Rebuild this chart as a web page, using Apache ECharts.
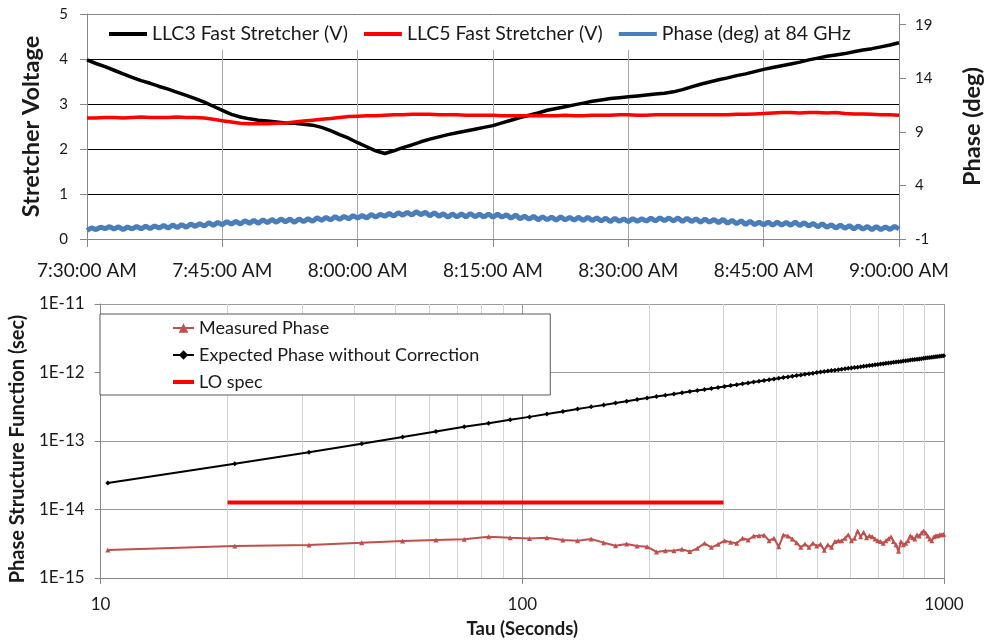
<!DOCTYPE html>
<html><head><meta charset="utf-8">
<script src="https://cdn.jsdelivr.net/npm/echarts@6/dist/echarts.min.js"></script>
<style>html,body{margin:0;padding:0;background:#fff}#c{width:992px;height:641px}</style>
</head><body><div id="c"></div>
<script>
// ---------- top chart data ----------
const timeTickLabels = ['7:30:00 AM','7:45:00 AM','8:00:00 AM','8:15:00 AM','8:30:00 AM','8:45:00 AM','9:00:00 AM'];
const stretcherStepMin = 1;   // one sample per minute, starting 7:30
const llc3Volts = [
 3.98,3.90,3.83,3.75,3.67,3.59,3.52,3.46,3.39,3.33,
 3.26,3.19,3.12,3.04,2.95,2.86,2.77,2.71,2.67,2.64,
 2.62,2.60,2.58,2.57,2.55,2.53,2.48,2.41,2.32,2.24,
 2.14,2.05,1.96,1.90,1.96,2.03,2.09,2.16,2.22,2.27,
 2.32,2.36,2.40,2.44,2.48,2.52,2.58,2.64,2.70,2.75,
 2.80,2.86,2.90,2.94,2.98,3.02,3.06,3.09,3.12,3.14,
 3.16,3.18,3.20,3.22,3.24,3.27,3.32,3.38,3.44,3.49,
 3.54,3.58,3.63,3.67,3.72,3.77,3.81,3.85,3.89,3.93,
 3.98,4.02,4.06,4.09,4.12,4.16,4.20,4.23,4.27,4.31,
 4.36];
const llc5Volts = [
 2.69,2.69,2.70,2.70,2.69,2.70,2.71,2.70,2.70,2.70,
 2.71,2.70,2.70,2.69,2.66,2.63,2.60,2.57,2.56,2.56,
 2.56,2.57,2.58,2.60,2.62,2.64,2.66,2.68,2.70,2.72,
 2.73,2.74,2.74,2.75,2.76,2.76,2.77,2.77,2.77,2.76,
 2.76,2.76,2.75,2.75,2.75,2.75,2.74,2.74,2.74,2.74,
 2.74,2.74,2.74,2.75,2.74,2.74,2.75,2.75,2.75,2.76,
 2.76,2.75,2.75,2.76,2.76,2.76,2.76,2.76,2.76,2.76,
 2.76,2.76,2.77,2.77,2.78,2.79,2.80,2.81,2.81,2.80,
 2.81,2.81,2.80,2.81,2.79,2.78,2.78,2.77,2.76,2.76,
 2.75];
const phaseStepMin = 0.5;     // one sample per 30 s
const phaseDeg = [
 -0.20,0.04,-0.12,0.10,-0.04,0.16,-0.07,0.14,-0.12,0.12,
 -0.06,0.17,-0.05,0.21,-0.04,0.22,0.02,0.27,0.02,0.31,
 0.06,0.35,0.09,0.40,0.17,0.44,0.20,0.53,0.27,0.55,
 0.32,0.63,0.38,0.64,0.40,0.71,0.47,0.73,0.46,0.79,
 0.53,0.82,0.56,0.87,0.60,0.87,0.55,0.88,0.63,0.89,
 0.64,0.98,0.74,1.01,0.78,1.09,0.84,1.11,0.88,1.18,
 0.95,1.19,0.96,1.29,1.04,1.31,1.12,1.39,1.14,1.46,
 1.22,1.49,1.23,1.55,1.27,1.49,1.16,1.45,1.12,1.36,
 1.04,1.34,1.07,1.34,1.06,1.39,1.07,1.31,1.05,1.33,
 1.03,1.32,1.04,1.26,0.94,1.24,0.89,1.13,0.84,1.12,
 0.79,1.08,0.80,1.05,0.76,1.07,0.78,1.02,0.77,1.04,
 0.73,1.03,0.73,0.97,0.68,0.95,0.62,0.93,0.65,0.88,
 0.61,0.91,0.65,0.90,0.67,0.95,0.68,0.98,0.72,0.96,
 0.68,0.97,0.64,0.94,0.63,0.88,0.57,0.87,0.57,0.82,
 0.53,0.83,0.47,0.74,0.42,0.70,0.35,0.65,0.34,0.58,
 0.31,0.58,0.28,0.57,0.30,0.55,0.28,0.58,0.25,0.52,
 0.21,0.46,0.13,0.42,0.09,0.34,0.02,0.31,0.00,0.25,
 -0.07,0.22,-0.08,0.17,-0.13,0.16,-0.12,0.13,-0.11,0.18,
 -0.05];
const phaseTicks = [-1,4,9,14,19];

// ---------- bottom chart data ----------
const tauSec = [
 10.4,20.8,31.2,41.6,52.0,62.4,72.8,83.2,93.6,104.0,
 114.4,124.8,135.2,145.6,156.0,166.4,176.8,187.2,197.6,208.0,
 218.4,228.8,239.2,249.6,260.0,270.4,280.8,291.2,301.6,312.0,
 322.4,332.8,343.2,353.6,364.0,374.4,384.8,395.2,405.6,416.0,
 426.4,436.8,447.2,457.6,468.0,478.4,488.8,499.2,509.6,520.0,
 530.4,540.8,551.2,561.6,572.0,582.4,592.8,603.2,613.6,624.0,
 634.4,644.8,655.2,665.6,676.0,686.4,696.8,707.2,717.6,728.0,
 738.4,748.8,759.2,769.6,780.0,790.4,800.8,811.2,821.6,832.0,
 842.4,852.8,863.2,873.6,884.0,894.4,904.8,915.2,925.6,936.0,
 946.4,956.8,967.2,977.6,988.0,998.4];
const measuredPhaseE15 = [   // units of 1e-15 s
 2.57,2.93,3.03,3.28,3.47,3.59,3.67,4.01,3.87,3.76,
 3.87,3.59,3.51,3.71,3.28,2.96,3.14,2.93,2.87,2.40,
 2.50,2.50,2.62,2.43,2.71,3.21,2.80,3.10,3.51,3.32,
 3.21,3.80,3.59,4.10,4.14,4.20,3.51,3.80,2.87,4.26,
 4.10,3.70,3.28,2.80,3.14,2.80,3.21,2.93,3.10,2.55,
 3.05,2.80,3.40,3.51,3.51,3.80,4.28,3.51,3.80,4.84,
 4.00,4.65,3.87,4.14,4.00,3.70,3.51,3.40,3.21,3.51,
 3.75,4.00,3.40,3.05,2.45,3.40,3.05,3.21,3.51,4.14,
 3.90,3.70,4.28,4.10,4.55,4.84,4.55,4.10,3.70,3.51,
 4.00,4.14,4.14,4.28,4.28,4.35];
const expectedPhaseE13 = [   // units of 1e-13 s
 0.243,0.466,0.687,0.914,1.14,1.375,1.61,1.82,2.05,2.25,
 2.48,2.70,2.93,3.15,3.36,3.58,3.80,4.02,4.25,4.45,
 4.66,4.86,5.06,5.26,5.46,5.66,5.86,6.05,6.25,6.45,
 6.65,6.85,7.05,7.25,7.44,7.64,7.84,8.04,8.23,8.43,
 8.63,8.82,9.02,9.21,9.41,9.60,9.79,9.99,10.16,10.33,
 10.50,10.66,10.83,11.00,11.16,11.33,11.49,11.66,11.82,11.98,
 12.15,12.31,12.47,12.63,12.79,12.95,13.11,13.27,13.43,13.59,
 13.75,13.91,14.06,14.22,14.38,14.53,14.69,14.85,15.00,15.16,
 15.31,15.47,15.62,15.77,15.93,16.08,16.23,16.38,16.54,16.69,
 16.84,16.99,17.14,17.29,17.44,17.60];
const loSpecTau = [20, 300];
const loSpecValue = [1.27e-14, 1.27e-14];

// ---------- build ----------
const FONT = 'Lato';
const seriesXY = (arr, step) => arr.map((v, i) => [i * step, v]);
const pairs = (xs, ys, scale) => xs.map((x, i) => [x, ys[i] * scale]);

const minorLines = [];
for (let k = -15; k <= -12; k++) for (let m = 2; m <= 9; m++) minorLines.push({ yAxis: m * Math.pow(10, k) });
for (let k = 1; k <= 2; k++) for (let m = 2; m <= 9; m++) minorLines.push({ xAxis: m * Math.pow(10, k) });

const grayAxis = '#868686';
const barIcon = 'path://M0,0 L21,0 L21,4 L0,4 Z';
const chart = echarts.init(document.getElementById('c'));
chart.setOption({
  animation: false,
  textStyle: { fontFamily: FONT },
  grid: [
    { left: 87, right: 79, top: 14, height: 225 },
    { left: 96, right: 48, top: 304, height: 274 }
  ],
  legend: [
    {
      data: [
        { name: 'LLC3 Fast Stretcher (V)', icon: 'rect' },
        { name: 'LLC5 Fast Stretcher (V)', icon: 'rect' },
        { name: 'Phase (deg) at 84 GHz', icon: 'rect' }
      ],
      top: 15, left: 103, itemWidth: 38, itemHeight: 4, itemGap: 16,
      padding: [9, 2, 6, 6], backgroundColor: '#fff',
      textStyle: { fontSize: 19.5, color: '#1a1a1a', fontFamily: FONT }
    },
    {
      data: [
        { name: 'Measured Phase' },
        { name: 'Expected Phase without Correction' },
        { name: 'LO spec', icon: barIcon }
      ],
      orient: 'vertical', top: 314, left: 100, itemWidth: 21, itemHeight: 12, itemGap: 7,
      padding: [4, 71, 3, 72], backgroundColor: '#fff', borderColor: '#595959', borderWidth: 1,
      textStyle: { fontSize: 18, lineHeight: 20, color: '#1a1a1a', fontFamily: FONT }
    }
  ],
  xAxis: [
    {
      type: 'value', gridIndex: 0, min: 0, max: 90, interval: 15,
      axisLine: { lineStyle: { color: grayAxis } },
      axisTick: { show: true, length: 8, lineStyle: { color: grayAxis } },
      axisLabel: { formatter: v => timeTickLabels[Math.round(v / 15)], fontSize: 19, color: '#1a1a1a', margin: 22, fontFamily: FONT },
      splitLine: { show: true, lineStyle: { color: '#a6a6a6' } }
    },
    {
      type: 'log', logBase: 10, gridIndex: 1, min: 10, max: 1000,
      name: 'Tau (Seconds)', nameLocation: 'middle', nameGap: 42,
      nameTextStyle: { fontSize: 18.5, fontWeight: 'bold', color: '#1a1a1a', fontFamily: FONT },
      axisLine: { lineStyle: { color: grayAxis } },
      axisTick: { show: true, length: 6, lineStyle: { color: grayAxis } },
      axisLabel: { fontSize: 17, color: '#1a1a1a', margin: 18, fontFamily: FONT,
        formatter: v => String(Math.round(v)) },
      splitLine: { show: true, lineStyle: { color: '#9a9a9a' } }
    }
  ],
  yAxis: [
    {
      type: 'value', gridIndex: 0, min: 0, max: 5, interval: 1,
      name: 'Stretcher Voltage', nameLocation: 'middle', nameGap: 44,
      nameTextStyle: { fontSize: 23.5, fontWeight: 'bold', color: '#1a1a1a', fontFamily: FONT },
      axisLine: { show: true, lineStyle: { color: grayAxis } },
      axisTick: { show: true, length: 7, lineStyle: { color: grayAxis } },
      axisLabel: { fontSize: 15, color: '#1a1a1a', margin: 19, fontFamily: FONT },
      splitLine: { show: true, lineStyle: { color: ['#868686', '#000', '#000', '#000', '#000', '#868686'] } }
    },
    {
      type: 'value', gridIndex: 0, position: 'right', min: -1, max: 20,
      name: 'Phase (deg)', nameLocation: 'middle', nameGap: 61,
      nameTextStyle: { fontSize: 23.5, fontWeight: 'bold', color: '#1a1a1a', fontFamily: FONT },
      axisLine: { show: true, lineStyle: { color: grayAxis } },
      axisTick: { show: true, length: 7, customValues: phaseTicks, lineStyle: { color: grayAxis } },
      axisLabel: { fontSize: 15, color: '#1a1a1a', margin: 16, customValues: phaseTicks, fontFamily: FONT },
      splitLine: { show: false }
    },
    {
      type: 'log', logBase: 10, gridIndex: 1, min: 1e-15, max: 1e-11,
      name: 'Phase Structure Function (sec)', nameLocation: 'middle', nameGap: 63,
      nameTextStyle: { fontSize: 20, fontWeight: 'bold', color: '#1a1a1a', fontFamily: FONT, padding: [0, 16, 0, 0] },
      axisLine: { show: true, lineStyle: { color: grayAxis } },
      axisTick: { show: true, length: 6, lineStyle: { color: grayAxis } },
      axisLabel: { fontSize: 17, color: '#1a1a1a', margin: 16, fontFamily: FONT,
        formatter: v => '1E' + Math.round(Math.log10(v)) },
      splitLine: { show: true, lineStyle: { color: '#9a9a9a' } }
    }
  ],
  series: [
    {
      name: 'LLC3 Fast Stretcher (V)', type: 'line', xAxisIndex: 0, yAxisIndex: 0,
      data: seriesXY(llc3Volts, stretcherStepMin), showSymbol: false, symbol: 'none',
      color: '#000', lineStyle: { color: '#000', width: 3.5 }, z: 3
    },
    {
      name: 'LLC5 Fast Stretcher (V)', type: 'line', xAxisIndex: 0, yAxisIndex: 0,
      data: seriesXY(llc5Volts, stretcherStepMin), showSymbol: false, symbol: 'none',
      color: '#ff0000', lineStyle: { color: '#ff0000', width: 3.5 }, z: 3
    },
    {
      name: 'Phase (deg) at 84 GHz', type: 'line', xAxisIndex: 0, yAxisIndex: 1,
      data: seriesXY(phaseDeg, phaseStepMin), showSymbol: false, symbol: 'none',
      color: '#4a7ebb', lineStyle: { color: '#4a7ebb', width: 5 }, z: 3
    },
    {
      name: 'minor grid', type: 'line', xAxisIndex: 1, yAxisIndex: 2, data: [], z: 1,
      markLine: {
        silent: true, symbol: ['none', 'none'], label: { show: false }, animation: false, z: 1,
        lineStyle: { color: '#d4d4d4', width: 1, type: 'solid' },
        emphasis: { disabled: true },
        data: minorLines
      }
    },
    {
      name: 'Measured Phase', type: 'line', xAxisIndex: 1, yAxisIndex: 2,
      data: pairs(tauSec, measuredPhaseE15, 1e-15), symbol: 'triangle', symbolSize: 5,
      color: '#c0504d', itemStyle: { color: '#c0504d' }, lineStyle: { color: '#c0504d', width: 2 }, z: 3
    },
    {
      name: 'Expected Phase without Correction', type: 'line', xAxisIndex: 1, yAxisIndex: 2,
      data: pairs(tauSec, expectedPhaseE13, 1e-13), symbol: 'diamond', symbolSize: 5,
      color: '#000', itemStyle: { color: '#000' }, lineStyle: { color: '#000', width: 2 }, z: 3
    },
    {
      name: 'LO spec', type: 'line', xAxisIndex: 1, yAxisIndex: 2,
      data: loSpecTau.map((t, i) => [t, loSpecValue[i]]), symbol: 'none',
      color: '#ff0000', lineStyle: { color: '#ff0000', width: 4 }, z: 3
    }
  ]
});
</script>
</body></html>
